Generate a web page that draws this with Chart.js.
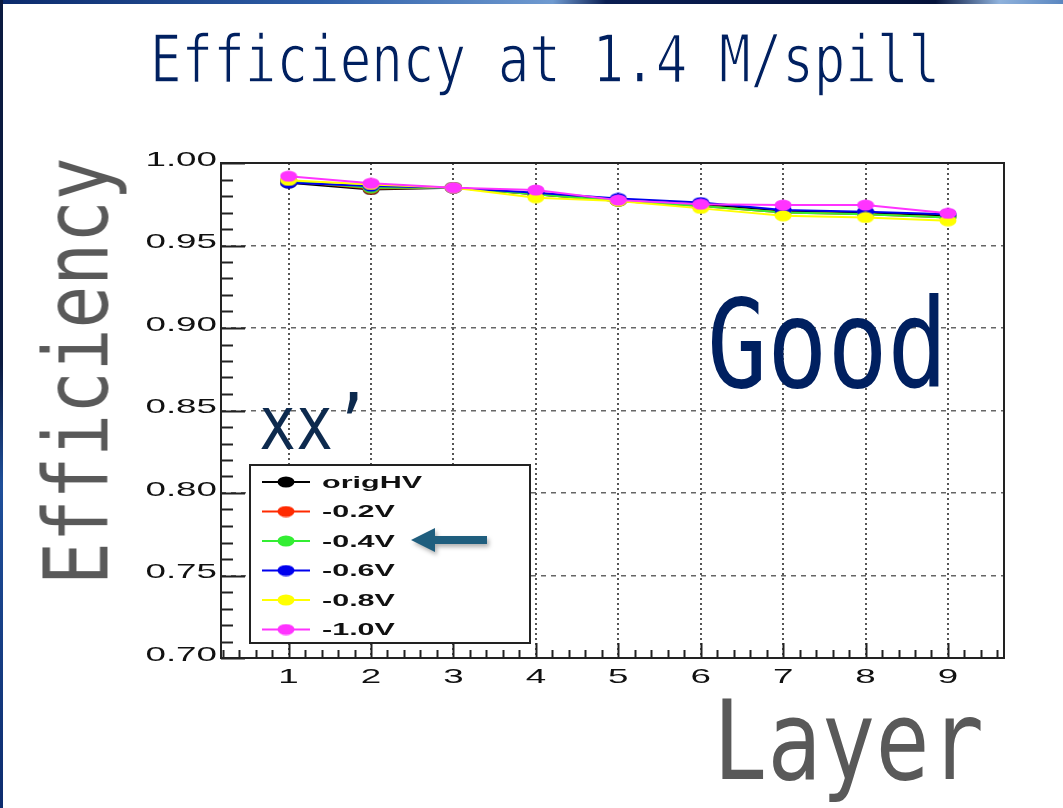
<!DOCTYPE html>
<html>
<head>
<meta charset="utf-8">
<title>Efficiency at 1.4 M/spill</title>
<script src="https://cdn.jsdelivr.net/npm/chart.js@4/dist/chart.umd.min.js"></script>
<style>
  html, body { margin: 0; padding: 0; background: #fff; }
  body { width: 1063px; height: 808px; position: relative; overflow: hidden; }
  #plot { position: absolute; left: 0; top: 0; }
  .band-top { position: absolute; left: 0; top: 0; width: 1063px; height: 4px;
    background: linear-gradient(90deg, #0b2a6b 0%, #2f5fa8 30%, #6f9ad0 52%, #0a1e52 57%, #04123a 88%, #8fb2dc 94%, #5a86c0 100%); }
  .band-left { position: absolute; left: 0; top: 0; width: 3px; height: 808px;
    background: linear-gradient(180deg, #0a1a40 0%, #0a1a40 45%, #1f4f9a 60%, #0d2c6e 100%); }
  .txt { position: absolute; white-space: nowrap; font-family: "DejaVu Sans Mono", monospace;
    line-height: 1; transform-origin: 0 0; }
  .thin { -webkit-text-stroke: 1.2px #fff; }
  #title { left: 150px; top: 27px; font-size: 52.5px; color: #002060; transform: scaleY(1.25); }
  #good  { left: 707px; top: 284px; font-size: 100px; color: #002060; transform: scaleY(1.23); }
  #xx    { left: 259px; top: 387px; font-size: 61.5px; color: #0d2a4e; transform: scaleY(1.22); }
  #ylab  { left: 32px; top: 585px; font-size: 71px; color: #595959; transform: rotate(-90deg) scaleY(1.255); }
  #xlab  { left: 713px; top: 685px; font-size: 90px; color: #595959; transform: scaleY(1.235); }
  #arrow { position: absolute; left: 400px; top: 520px; filter: drop-shadow(2px 3px 2px rgba(0,0,0,0.3)); }
</style>
</head>
<body>
<div class="band-top"></div>
<div class="band-left"></div>
<canvas id="plot" width="1063" height="808"></canvas>
<div class="txt thin" id="title">Efficiency at 1.4 M/spill</div>
<div class="txt" id="good">Good</div>
<div class="txt" id="xx">xx’</div>
<div class="txt" id="ylab">Efficiency</div>
<div class="txt" id="xlab">Layer</div>
<svg id="arrow" width="100" height="44" viewBox="400 520 100 44">
  <polygon points="411,540 435,528 435,536 487,536 487,544 435,544 435,552" fill="#1f5e7e"/>
</svg>
<script>
// efficiency per layer for each HV setting
const layers = [1, 2, 3, 4, 5, 6, 7, 8, 9];
const seriesNames = ['origHV', '-0.2V', '-0.4V', '-0.6V', '-0.8V', '-1.0V'];
const seriesColors = ['#000000', '#ff2a00', '#33ee33', '#0000ee', '#ffff00', '#ff33ff'];
const effOrig = [0.9880, 0.9840, 0.9850, 0.9810, 0.9770, 0.9750, 0.9710, 0.9700, 0.9680];
const eff02   = [0.9890, 0.9845, 0.9850, 0.9810, 0.9770, 0.9740, 0.9700, 0.9690, 0.9670];
const eff04   = [0.9890, 0.9850, 0.9850, 0.9810, 0.9770, 0.9740, 0.9700, 0.9690, 0.9670];
const eff06   = [0.9880, 0.9860, 0.9850, 0.9820, 0.9785, 0.9760, 0.9715, 0.9705, 0.9690];
const eff08   = [0.9895, 0.9870, 0.9850, 0.9790, 0.9770, 0.9725, 0.9680, 0.9670, 0.9650];
const eff10   = [0.9920, 0.9877, 0.9850, 0.9836, 0.9775, 0.9750, 0.9745, 0.9745, 0.9695];
const seriesValues = [effOrig, eff02, eff04, eff06, eff08, eff10];

const yTickLabels = ['0.70', '0.75', '0.80', '0.85', '0.90', '0.95', '1.00'];
const xTickLabels = ['1', '2', '3', '4', '5', '6', '7', '8', '9'];
const yTicks = yTickLabels.map(Number);
const xTicks = xTickLabels.map(Number);

// flattened ellipse marker, like the stretched ROOT circles
function ellipseMarker(color) {
  const c = document.createElement('canvas');
  c.width = 18; c.height = 12;
  const g = c.getContext('2d');
  g.fillStyle = color;
  g.beginPath();
  g.ellipse(9, 6, 8.5, 5.5, 0, 0, Math.PI * 2);
  g.fill();
  return c;
}

const datasets = seriesNames.map((name, i) => ({
  label: name,
  data: layers.map((x, j) => ({ x: x, y: seriesValues[i][j] })),
  borderColor: seriesColors[i],
  backgroundColor: seriesColors[i],
  borderWidth: 2,
  pointStyle: ellipseMarker(seriesColors[i]),
  order: seriesNames.length - i
}));

// stretched text helper (the plot is wider than it is tall)
function wideText(ctx, text, x, y, sx, align) {
  ctx.save();
  ctx.translate(x, y);
  ctx.scale(sx, 1);
  ctx.textAlign = align;
  ctx.fillText(text, 0, 0);
  ctx.restore();
}

const rootAxes = {
  id: 'rootAxes',
  beforeDatasetsDraw(chart) {
    const { ctx, chartArea: a, scales: { x, y } } = chart;
    ctx.save();
    ctx.strokeStyle = '#222';
    ctx.lineWidth = 2;
    ctx.beginPath();
    // y ticks, inward from the left edge
    for (let v = 70; v <= 100; v++) {
      const py = Math.round(y.getPixelForValue(v / 100)) + 0.5;
      const len = v % 5 === 0 ? 24 : 12;
      ctx.moveTo(a.left, py);
      ctx.lineTo(a.left + len, py);
    }
    // x ticks, inward from the bottom edge
    for (let v = 1; v <= 48; v++) {
      const val = v / 5;
      if (val < x.min || val > x.max) continue;
      const px = Math.round(x.getPixelForValue(val)) + 0.5;
      const len = v % 5 === 0 ? 15 : 8;
      ctx.moveTo(px, a.bottom);
      ctx.lineTo(px, a.bottom - len);
    }
    ctx.stroke();
    ctx.restore();
  },
  afterDatasetsDraw(chart) {
    const { ctx, chartArea: a, scales: { x, y } } = chart;
    ctx.save();
    // frame
    ctx.strokeStyle = '#222';
    ctx.lineWidth = 2;
    ctx.strokeRect(a.left, a.top, a.right - a.left, a.bottom - a.top);

    // tick labels
    ctx.fillStyle = '#111';
    ctx.font = '21px "Liberation Sans", Arial, sans-serif';
    ctx.textBaseline = 'middle';
    yTicks.forEach((v, i) => {
      wideText(ctx, yTickLabels[i], a.left - 4, y.getPixelForValue(v) - 3, 1.75, 'right');
    });
    ctx.textBaseline = 'top';
    xTicks.forEach((v, i) => {
      wideText(ctx, xTickLabels[i], x.getPixelForValue(v), a.bottom + 9, 1.75, 'center');
    });

    // legend box
    const lx = a.left + 29, ly = 465, lw = 280, lh = 178;
    ctx.fillStyle = '#fff';
    ctx.fillRect(lx, ly, lw, lh);
    ctx.strokeStyle = '#222';
    ctx.lineWidth = 2;
    ctx.strokeRect(lx, ly, lw, lh);
    ctx.font = 'bold 16.5px "Liberation Sans", Arial, sans-serif';
    ctx.textBaseline = 'middle';
    chart.data.datasets.forEach((ds, i) => {
      const ry = ly + 17 + i * 29.5;
      ctx.strokeStyle = ds.borderColor;
      ctx.lineWidth = 2;
      ctx.beginPath();
      ctx.moveTo(lx + 12, ry);
      ctx.lineTo(lx + 60, ry);
      ctx.stroke();
      const m = ds.pointStyle;
      ctx.drawImage(m, lx + 36 - m.width / 2, ry - m.height / 2);
      ctx.fillStyle = '#111';
      wideText(ctx, ds.label, lx + 72, ry + 1, 1.85, 'left');
    });
    ctx.restore();
  }
};

new Chart(document.getElementById('plot'), {
  type: 'line',
  data: { datasets: datasets },
  options: {
    responsive: false,
    animation: false,
    devicePixelRatio: 1,
    layout: { padding: { left: 221, right: 59, top: 163, bottom: 150 } },
    plugins: {
      legend: { display: false },
      tooltip: { enabled: false },
      title: { display: false }
    },
    scales: {
      x: {
        type: 'linear',
        min: 0.18,
        max: 9.68,
        afterBuildTicks: s => { s.ticks = xTicks.map(v => ({ value: v })); },
        afterFit: s => { s.height = 0; },
        ticks: { display: false },
        grid: { color: '#555', lineWidth: 2, drawTicks: false },
        border: { display: false, dash: [2, 3] }
      },
      y: {
        min: 0.70,
        max: 1.00,
        afterBuildTicks: s => { s.ticks = yTicks.map(v => ({ value: v })); },
        afterFit: s => { s.width = 0; },
        ticks: { display: false },
        grid: { color: '#666', lineWidth: 1.5, drawTicks: false },
        border: { display: false, dash: [5, 5] }
      }
    }
  },
  plugins: [rootAxes]
});
</script>
</body>
</html>
